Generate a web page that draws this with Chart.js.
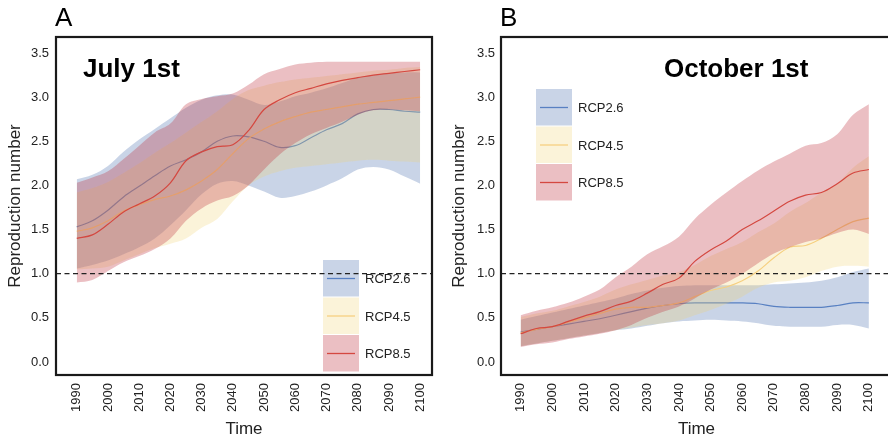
<!DOCTYPE html>
<html>
<head>
<meta charset="utf-8">
<script src="https://cdn.jsdelivr.net/npm/chart.js@4.4.1/dist/chart.umd.min.js"></script>
<style>
  html, body { margin: 0; padding: 0; background: #fff; overflow: hidden; }
  #wrap { position: relative; width: 888px; height: 440px; overflow: hidden; }
  #chartA { position: absolute; left: 0; top: 0; }
  #chartB { position: absolute; left: 444px; top: 0; }
</style>
</head>
<body>
<div id="wrap">
  <canvas id="chartA" width="444" height="440"></canvas>
  <canvas id="chartB" width="460" height="440"></canvas>
</div>
<script>
// years sampled every 5 years
const years = [1990,1995,2000,2005,2010,2015,2020,2025,2030,2035,2040,2045,2050,2055,2060,2065,2070,2075,2080,2085,2090,2095,2100];
const xTicks = [1990,2000,2010,2020,2030,2040,2050,2060,2070,2080,2090,2100];
const yTicks = [0,0.5,1,1.5,2,2.5,3,3.5];
const seriesNames = ["RCP2.6", "RCP4.5", "RCP8.5"];

// Panel A - July 1st
const julyBlueMean  = [1.53,1.60,1.72,1.87,1.99,2.11,2.22,2.29,2.38,2.50,2.56,2.55,2.50,2.43,2.45,2.54,2.63,2.70,2.81,2.86,2.86,2.84,2.83];
const julyBlueLow   = [1.06,1.10,1.15,1.22,1.30,1.40,1.55,1.72,1.90,2.02,2.05,2.00,1.93,1.86,1.88,1.93,2.00,2.08,2.18,2.21,2.18,2.10,2.02];
const julyBlueHigh  = [2.07,2.12,2.22,2.38,2.52,2.64,2.76,2.88,2.97,3.02,3.03,2.97,2.91,2.95,3.01,3.05,3.10,3.16,3.22,3.25,3.27,3.28,3.28];
const julyYellowMean= [1.48,1.52,1.60,1.71,1.78,1.84,1.88,1.95,2.05,2.18,2.36,2.53,2.64,2.72,2.78,2.83,2.86,2.89,2.92,2.94,2.96,2.98,3.00];
const julyYellowLow = [1.05,1.06,1.08,1.15,1.22,1.29,1.34,1.40,1.52,1.62,1.82,2.00,2.10,2.16,2.20,2.22,2.24,2.26,2.28,2.29,2.28,2.27,2.26];
const julyYellowHigh= [1.92,1.97,2.04,2.14,2.25,2.37,2.48,2.60,2.72,2.84,2.98,3.08,3.13,3.17,3.20,3.22,3.24,3.26,3.28,3.30,3.31,3.33,3.34];
const julyRedMean   = [1.40,1.44,1.56,1.70,1.79,1.88,2.03,2.28,2.38,2.44,2.46,2.62,2.86,2.97,3.05,3.10,3.15,3.19,3.22,3.25,3.27,3.29,3.31];
const julyRedLow    = [0.90,0.93,1.03,1.13,1.20,1.28,1.40,1.60,1.74,1.83,1.88,2.00,2.18,2.35,2.48,2.58,2.65,2.72,2.80,2.85,2.86,2.85,2.84];
const julyRedHigh   = [2.03,2.09,2.16,2.30,2.45,2.60,2.70,2.92,2.98,3.01,3.04,3.14,3.26,3.32,3.37,3.39,3.40,3.40,3.40,3.40,3.40,3.40,3.40];

// Panel B - October 1st
const octBlueMean   = [0.34,0.37,0.40,0.43,0.46,0.49,0.53,0.57,0.61,0.64,0.66,0.67,0.67,0.67,0.67,0.66,0.63,0.62,0.62,0.62,0.64,0.67,0.67];
const octBlueLow    = [0.18,0.21,0.24,0.27,0.30,0.33,0.36,0.38,0.41,0.44,0.46,0.47,0.48,0.47,0.46,0.44,0.41,0.40,0.40,0.40,0.42,0.42,0.38];
const octBlueHigh   = [0.48,0.52,0.56,0.60,0.64,0.68,0.72,0.77,0.81,0.84,0.86,0.87,0.87,0.87,0.87,0.87,0.88,0.89,0.90,0.92,0.96,1.02,1.06];
const octYellowMean = [0.33,0.37,0.40,0.45,0.50,0.55,0.60,0.62,0.62,0.64,0.67,0.74,0.81,0.85,0.92,1.03,1.18,1.30,1.32,1.40,1.50,1.59,1.63];
const octYellowLow  = [0.18,0.21,0.24,0.27,0.30,0.33,0.36,0.39,0.42,0.44,0.47,0.53,0.59,0.66,0.74,0.84,0.90,0.92,0.96,1.03,1.08,1.09,1.08];
const octYellowHigh = [0.51,0.55,0.58,0.63,0.68,0.74,0.82,0.88,0.93,0.98,1.02,1.10,1.20,1.28,1.36,1.47,1.57,1.70,1.80,1.92,2.02,2.20,2.33];
const octRedMean    = [0.32,0.38,0.40,0.46,0.52,0.57,0.64,0.69,0.78,0.88,0.95,1.14,1.27,1.37,1.50,1.60,1.71,1.82,1.89,1.92,2.02,2.14,2.18];
const octRedLow     = [0.17,0.20,0.22,0.26,0.29,0.32,0.36,0.42,0.50,0.57,0.63,0.72,0.82,0.90,1.00,1.12,1.23,1.30,1.36,1.40,1.46,1.50,1.45];
const octRedHigh    = [0.53,0.58,0.62,0.67,0.74,0.82,0.96,1.08,1.22,1.31,1.42,1.62,1.78,1.92,2.05,2.17,2.27,2.36,2.45,2.48,2.58,2.80,2.92];

const BAND = ["rgba(76,114,176,0.3)", "rgba(239,211,115,0.27)", "rgba(190,50,60,0.31)"];
const LINE = ["rgb(88,128,194)", "rgb(246,208,128)", "rgb(212,72,64)"];

Chart.defaults.font.family = "'Liberation Sans', Arial, sans-serif";
Chart.defaults.color = "#222";

function pts(vals){ return years.map((y, i) => ({x: y, y: vals[i]})); }

// build band + mean datasets; lower "order" is drawn on top
function makeDatasets(groups){
    let ds = [];
    groups.forEach((g, k) => {
        const base = ds.length;
        const ord = (2 - k) * 2;
        ds.push({data: pts(g.high), fill: base + 1, backgroundColor: BAND[k], borderWidth: 0, pointRadius: 0, tension: 0.35, order: ord + 1});
        ds.push({data: pts(g.low), fill: false, borderWidth: 0, pointRadius: 0, tension: 0.35, order: ord + 1});
        ds.push({data: pts(g.mean), fill: false, borderColor: LINE[k], borderWidth: 1.2, pointRadius: 0, tension: 0.35, order: ord});
    });
    return ds;
}

const decorPlugin = {
    id: "decor",
    afterDraw(chart, args, o){
        const ctx = chart.ctx, a = chart.chartArea;
        ctx.save();
        // panel letter
        ctx.fillStyle = "#000";
        ctx.font = "26px 'Liberation Sans', Arial, sans-serif";
        ctx.textBaseline = "alphabetic";
        ctx.textAlign = "left";
        ctx.fillText(o.letter, a.left - 1, 26);
        // title
        ctx.font = "bold 26px 'Liberation Sans', Arial, sans-serif";
        ctx.fillText(o.title, a.left + o.titleDx, a.top + 40);
        // legend
        const lx = a.left + o.legDx, ly = a.top + o.legDy;
        ctx.font = "13px 'Liberation Sans', Arial, sans-serif";
        ctx.textBaseline = "middle";
        seriesNames.forEach((name, k) => {
            const top = ly + k * 37.5;
            ctx.fillStyle = BAND[k];
            ctx.fillRect(lx, top, 36, 36.5);
            ctx.strokeStyle = LINE[k];
            ctx.lineWidth = 1.3;
            ctx.beginPath();
            ctx.moveTo(lx + 4, top + 18.5);
            ctx.lineTo(lx + 32, top + 18.5);
            ctx.stroke();
            ctx.fillStyle = "#222";
            ctx.fillText(name, lx + 42, top + 19.5);
        });
        // threshold line at R = 1
        const y1 = chart.scales.y.getPixelForValue(1);
        ctx.strokeStyle = "#222";
        ctx.lineWidth = 1.3;
        ctx.setLineDash([5, 3.5]);
        ctx.beginPath();
        ctx.moveTo(a.left, y1);
        ctx.lineTo(a.right, y1);
        ctx.stroke();
        ctx.setLineDash([]);
        // frame
        ctx.strokeStyle = "#1a1a1a";
        ctx.lineWidth = 2.2;
        ctx.strokeRect(a.left, a.top, a.right - a.left, a.bottom - a.top);
        ctx.restore();
    }
};

function makeChart(id, groups, opt){
    return new Chart(document.getElementById(id), {
        type: "line",
        data: {datasets: makeDatasets(groups)},
        plugins: [decorPlugin],
        options: {
            responsive: false,
            animation: false,
            devicePixelRatio: 1,
            layout: {padding: {top: 37, right: opt.padRight, left: 0, bottom: 0}},
            plugins: {
                legend: {display: false},
                tooltip: {enabled: false},
                decor: {letter: opt.letter, title: opt.title, titleDx: opt.titleDx, legDx: opt.legDx, legDy: opt.legDy}
            },
            scales: {
                x: {
                    type: "linear",
                    min: opt.xmin, max: opt.xmax,
                    grid: {display: false, drawTicks: false},
                    border: {display: false},
                    afterBuildTicks: s => { s.ticks = xTicks.map(v => ({value: v})); },
                    afterFit: s => { s.height = 65; },
                    ticks: {autoSkip: false, maxRotation: 90, minRotation: 90, padding: 8,
                            font: {size: 13}, callback: v => String(v)},
                    title: {display: true, text: "Time", font: {size: 17}, padding: {top: 2, bottom: 0}}
                },
                y: {
                    min: -0.147, max: 3.681,
                    grid: {display: false, drawTicks: false},
                    border: {display: false},
                    afterBuildTicks: s => { s.ticks = yTicks.map(v => ({value: v})); },
                    afterFit: s => { s.width = opt.yWidth; },
                    ticks: {padding: opt.yPad, font: {size: 13}, callback: v => v.toFixed(1)},
                    title: {display: true, text: "Reproduction number", font: {size: 17}, padding: {top: 5, bottom: 4}}
                }
            }
        }
    });
}

makeChart("chartA", [
    {mean: julyBlueMean, low: julyBlueLow, high: julyBlueHigh},
    {mean: julyYellowMean, low: julyYellowLow, high: julyYellowHigh},
    {mean: julyRedMean, low: julyRedLow, high: julyRedHigh}
], {letter: "A", title: "July 1st", titleDx: 27, legDx: 267, legDy: 223,
    xmin: 1983.36, xmax: 2103.79, padRight: 7, yWidth: 56, yPad: 7});

makeChart("chartB", [
    {mean: octBlueMean, low: octBlueLow, high: octBlueHigh},
    {mean: octYellowMean, low: octYellowLow, high: octYellowHigh},
    {mean: octRedMean, low: octRedLow, high: octRedHigh}
], {letter: "B", title: "October 1st", titleDx: 163, legDx: 35, legDy: 52,
    xmin: 1983.8, xmax: 2107.3, padRight: 12, yWidth: 57, yPad: 6});
</script>
</body>
</html>
